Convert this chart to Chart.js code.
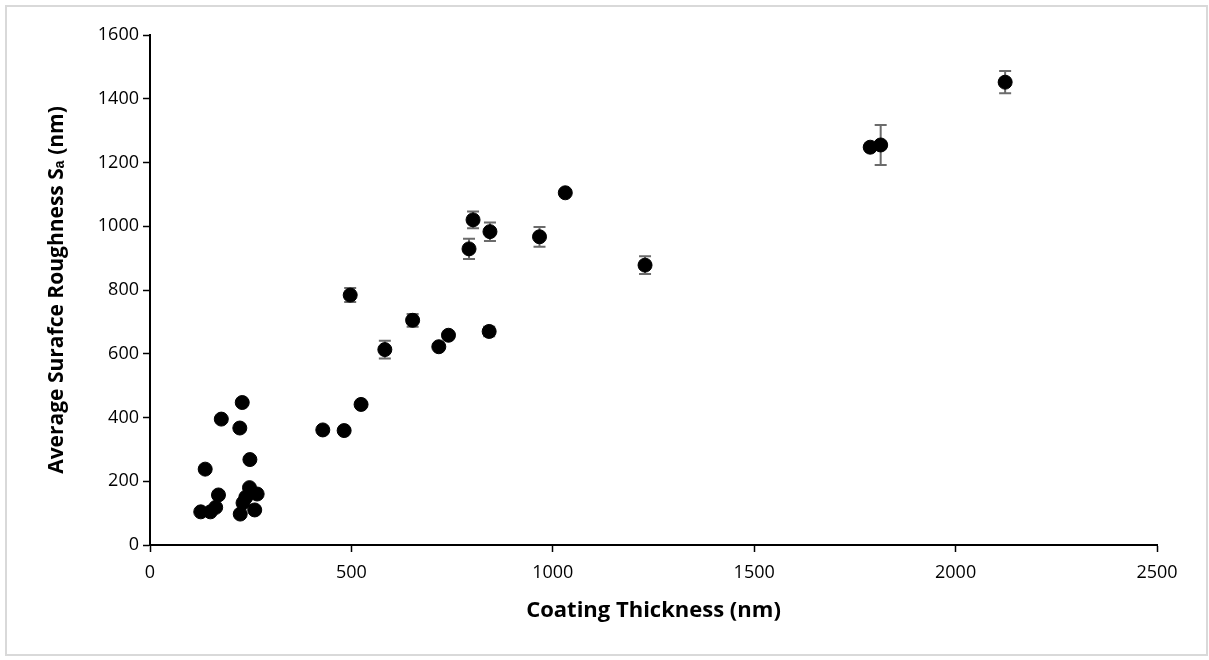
<!DOCTYPE html>
<html>
<head>
<meta charset="utf-8">
<script src="https://cdn.jsdelivr.net/npm/chart.js@4/dist/chart.umd.min.js"></script>
<style>
  html, body { margin: 0; padding: 0; background: #fff; }
  #wrap { position: relative; width: 1209px; height: 660px; }
  #frame { position: absolute; left: 5px; top: 5px; width: 1199px; height: 647px;
           border: 2px solid #d9d9d9; pointer-events: none; }
</style>
</head>
<body>
<div id="wrap">
  <canvas id="chart1" width="1209" height="660"></canvas>
  <div id="frame"></div>
</div>
<script>
// coating thickness (nm)
var thickness = [126, 150, 163, 170, 137, 177, 223, 229, 248, 224, 231, 238, 247, 260, 266,
  429, 482, 524, 497, 583, 652, 717, 741, 842, 792, 802, 844, 967, 1031, 1229,
  1788, 1814, 2123];
// average surface roughness Sa (nm)
var roughness = [104, 104, 118, 157, 238, 395, 367, 447, 268, 97, 132, 150, 180, 110, 160,
  361, 359, 441, 784, 613, 705, 622, 658, 670, 929, 1020, 983, 967, 1105, 878,
  1248, 1255, 1452];
// error (+/-)
var roughnessErr = [0, 0, 0, 0, 0, 0, 0, 8, 0, 0, 0, 0, 0, 0, 0,
  0, 0, 0, 22, 28, 20, 0, 0, 15, 32, 26, 29, 31, 8, 28,
  0, 63, 35];

var xRange = [0, 2500, 500];
var yRange = [0, 1600, 200];

var errorBars = {
  id: "errorBars",
  beforeDatasetsDraw: function (chart) {
    var ctx = chart.ctx;
    var xs = chart.scales.x;
    var ys = chart.scales.y;
    ctx.save();
    ctx.strokeStyle = "#6b6b6b";
    ctx.lineWidth = 2;
    thickness.forEach(function (t, i) {
      var e = roughnessErr[i];
      if (!e) return;
      var px = xs.getPixelForValue(t);
      var top = ys.getPixelForValue(roughness[i] + e);
      var bot = ys.getPixelForValue(roughness[i] - e);
      ctx.beginPath();
      ctx.moveTo(px, top);
      ctx.lineTo(px, bot);
      ctx.moveTo(px - 6, top);
      ctx.lineTo(px + 6, top);
      ctx.moveTo(px - 6, bot);
      ctx.lineTo(px + 6, bot);
      ctx.stroke();
    });
    ctx.restore();
  }
};

var points = thickness.map(function (t, i) {
  return { x: t, y: roughness[i] };
});

function plain(v) { return String(v); }

var tickFont = { family: "'Open Sans', sans-serif", size: 18 };

var ctx = document.getElementById("chart1");
var myChart = new Chart(ctx, {
  type: "scatter",
  data: {
    datasets: [
      {
        data: points,
        backgroundColor: "#000",
        borderColor: "#000",
        borderWidth: 1,
        pointRadius: 7,
        pointHoverRadius: 7,
      },
    ],
  },
  options: {
    responsive: false,
    animation: false,
    layout: { padding: { left: 44, top: 35, right: 52, bottom: 36 } },
    plugins: { legend: { display: false }, tooltip: { enabled: false } },
    scales: {
      x: {
        type: "linear",
        min: xRange[0],
        max: xRange[1],
        ticks: { stepSize: xRange[2], color: "#000", font: tickFont, padding: 10, callback: plain },
        grid: { drawOnChartArea: false, color: "#000", tickLength: 7, tickWidth: 1.5 },
        border: { color: "#000", width: 2 },
        title: { display: true, text: "Coating Thickness (nm)", color: "#000",
                 font: { family: "'Open Sans', sans-serif", size: 22, weight: "bold" }, padding: 0 },
        afterFit: function (scale) { scale.height = 79; },
      },
      y: {
        type: "linear",
        min: yRange[0],
        max: yRange[1],
        ticks: { stepSize: yRange[2], color: "#000", font: tickFont, padding: 4, callback: plain },
        grid: { drawOnChartArea: false, color: "#000", tickLength: 7, tickWidth: 1.5 },
        border: { color: "#000", width: 2 },
        title: { display: true, text: "Average Surafce Roughness Sₐ (nm)", color: "#000",
                 font: { family: "'Open Sans', sans-serif", size: 21, weight: "bold" }, padding: 0 },
        afterFit: function (scale) { scale.width = 106; },
      },
    },
  },
  plugins: [errorBars],
});
</script>
</body>
</html>
